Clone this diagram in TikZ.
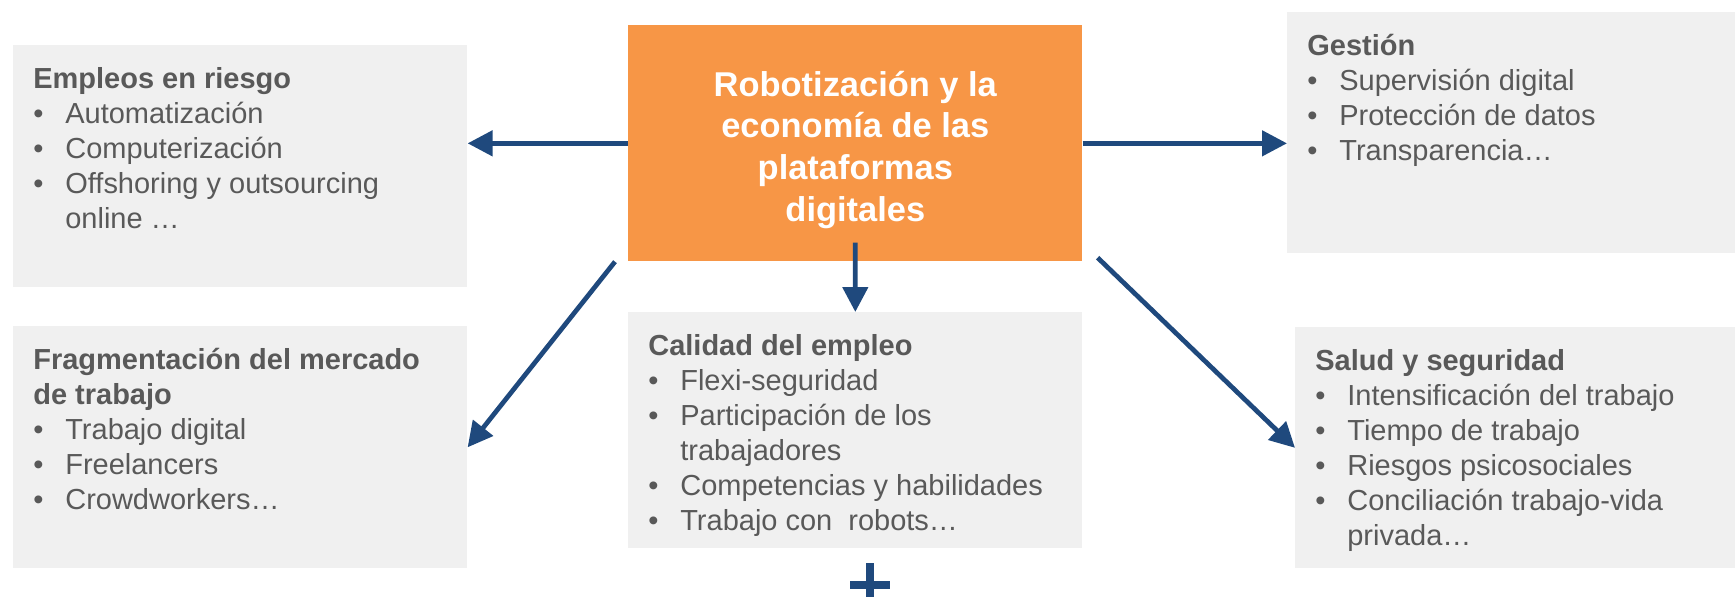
\documentclass[tikz,border=0pt]{standalone}
\usepackage{fontspec}
\setmainfont{Liberation Sans}
\usepackage{tikz}
\usetikzlibrary{arrows.meta}

\definecolor{naranja}{HTML}{F79646}
\definecolor{gris}{HTML}{F0F0F0}
\definecolor{texto}{HTML}{595959}
\definecolor{azul}{HTML}{1F497D}

\newcommand{\caja}[3]{\vbox to #2{\hsize=#1\parindent=0pt\parskip=0pt\rightskip=0pt plus 1fil\rule{0pt}{0.86cm}#3\par\vfil}}
\newcommand{\itm}[1]{\par\hangindent=0.64cm\hangafter=1\noindent\makebox[0.64cm][l]{•}#1}

\begin{document}
\begin{tikzpicture}[x=0.02cm, y=-0.02cm,
    box/.style = {fill=gris, text=texto, anchor=north west, inner xsep=0.4cm, inner ysep=0pt, font=\fontsize{16.5}{19.9}\selectfont},
    centro/.style = {fill=naranja, text=white, anchor=north west, inner sep=0pt, minimum width=9.08cm, minimum height=4.72cm, align=center, font=\fontsize{19.6}{23.7}\selectfont\bfseries},
    arr/.style = {azul, line width=2.7pt, -{Triangle[length=5mm, width=5mm]}}]
    \useasboundingbox (0,0) rectangle (1735,596);

    \node[centro](robot) at (628,25) {\rule{0pt}{0.76cm}Robotización y la\\economía de las\\plataformas\\digitales};
    \node[box](riesgo) at (13,45) {\caja{8.28cm}{4.84cm}{\textbf{Empleos en riesgo}\itm{Automatización}\itm{Computerización}\itm{Offshoring y outsourcing\\online …}}};
    \node[box](frag) at (13,326) {\caja{8.28cm}{4.84cm}{\textbf{Fragmentación del mercado\\de trabajo}\itm{Trabajo digital}\itm{Freelancers}\itm{Crowdworkers…}}};
    \node[box](calidad) at (628,312) {\caja{8.28cm}{4.72cm}{\textbf{Calidad del empleo}\itm{Flexi-seguridad}\itm{Participación de los\\trabajadores}\itm{Competencias y habilidades}\itm{Trabajo con \ robots…}}};
    \node[box](gestion) at (1287,12) {\caja{8.16cm}{4.82cm}{\textbf{Gestión}\itm{Supervisión digital}\itm{Protección de datos}\itm{Transparencia…}}};
    \node[box](salud) at (1295,327) {\caja{8.0cm}{4.82cm}{\textbf{Salud y seguridad}\itm{Intensificación del trabajo}\itm{Tiempo de trabajo}\itm{Riesgos psicosociales}\itm{Conciliación trabajo-vida\\privada…}}};
    \coordinate (mas) at (870,585);

    \draw[arr] (robot.west) -- (robot.west -| riesgo.east);
    \draw[arr] (robot.east) -- (robot.east -| gestion.west);
    \draw[arr] ([yshift=0.38cm]robot.south) -- (calidad.north);
    \draw[arr] ([xshift=-0.26cm]robot.south west) -- (frag.east);
    \draw[arr] ([xshift=0.3cm, yshift=0.08cm]robot.south east) -- (salud.west);
    \draw[azul, line width=0.15cm] (mas) +(-20,0) -- +(20,0) (mas) +(0,-22) -- +(0,22);
\end{tikzpicture}
\end{document}
